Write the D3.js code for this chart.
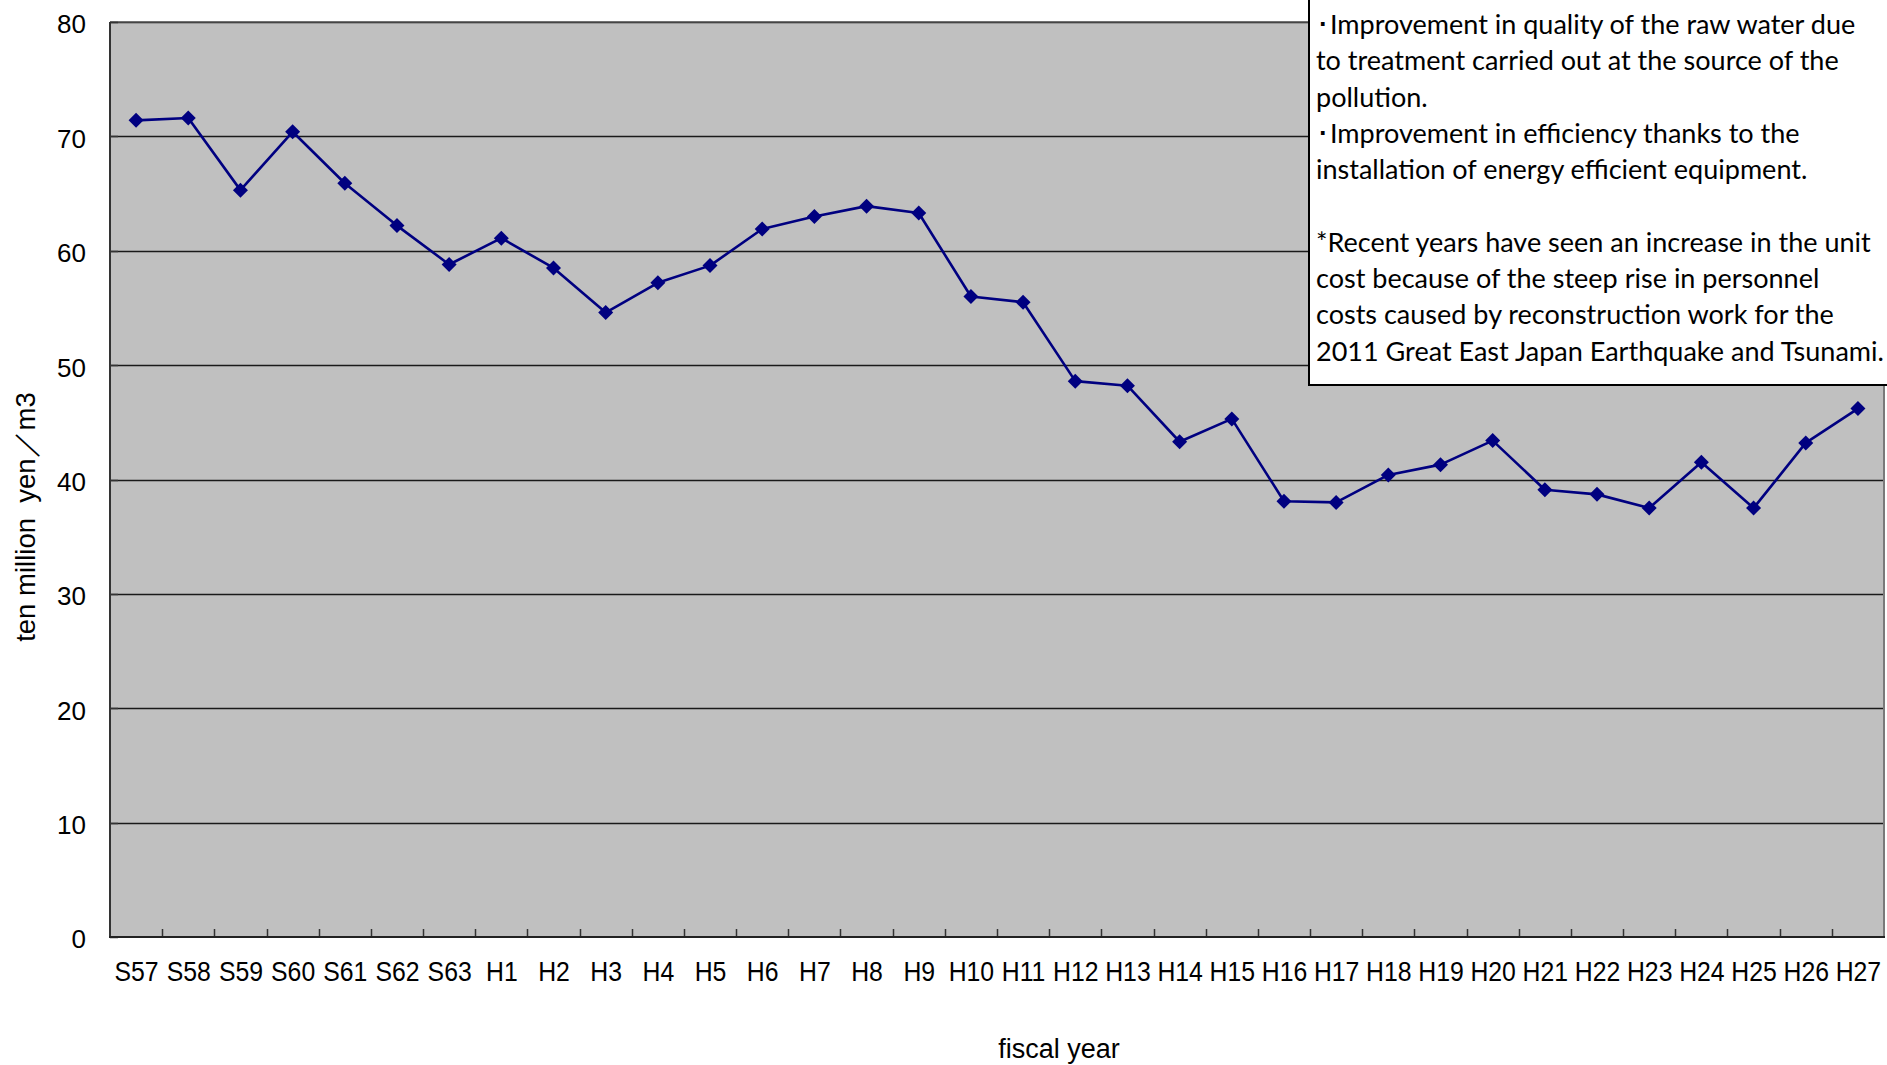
<!DOCTYPE html>
<html><head><meta charset="utf-8">
<script src="https://cdn.jsdelivr.net/npm/d3@7"></script>
<style>body{margin:0;background:#fff;} svg{display:block;}</style>
</head><body>
<script>
const categories = ["S57","S58","S59","S60","S61","S62","S63","H1","H2","H3","H4","H5","H6","H7","H8","H9","H10","H11","H12","H13","H14","H15","H16","H17","H18","H19","H20","H21","H22","H23","H24","H25","H26","H27"];
const values = [71.4,71.6,65.3,70.4,65.9,62.2,58.8,61.1,58.5,54.6,57.2,58.7,61.9,63.0,63.9,63.3,56.0,55.5,48.6,48.2,43.3,45.3,38.1,38.0,40.4,41.3,43.4,39.1,38.7,37.5,41.5,37.5,43.2,46.2];
const yTicks = [0,10,20,30,40,50,60,70,80];
const xTitle = "fiscal year";
const yTitle = "ten million\u00a0\u00a0yen／m3";
const noteLines = [
  "･Improvement in quality of the raw water due",
  "to treatment carried out at the source of the",
  "pollution.",
  "･Improvement in efficiency thanks to the",
  "installation of energy efficient equipment.",
  "",
  "*Recent years have seen an increase in the unit",
  "cost because of the steep rise in personnel",
  "costs caused by reconstruction work for the",
  "2011 Great East Japan Earthquake and Tsunami."
];

const W = 1887, H = 1065;
const m = {left:110, right:1884, top:22, bottom:937};
const svg = d3.select("body").append("svg").attr("width", W).attr("height", H);

const x = d3.scalePoint().domain(categories).range([m.left, m.right]).padding(0.5);
const xb = d3.scaleBand().domain(categories).range([m.left, m.right]);
const y = d3.scaleLinear().domain([0, 80]).range([m.bottom, m.top]);

const axisFont = "'Liberation Sans', Arial, sans-serif";

// plot background
svg.append("rect").attr("x", m.left).attr("y", m.top)
  .attr("width", m.right - m.left).attr("height", m.bottom - m.top)
  .attr("fill", "#c0c0c0");

// gridlines
svg.append("g").selectAll("line").data(yTicks.filter(d => d > 0)).join("line")
  .attr("x1", m.left).attr("x2", m.right)
  .attr("y1", d => Math.round(y(d)) + 0.5).attr("y2", d => Math.round(y(d)) + 0.5)
  .attr("stroke", "#1a1a1a").attr("stroke-width", 1.3);

// plot border top/right
svg.append("line").attr("x1", m.right).attr("x2", m.right).attr("y1", m.top).attr("y2", m.bottom)
  .attr("stroke", "#7a7a7a").attr("stroke-width", 2);
svg.append("line").attr("x1", m.left).attr("x2", m.right).attr("y1", m.top).attr("y2", m.top)
  .attr("stroke", "#555").attr("stroke-width", 1.5);

// x boundary ticks (pointing inside)
const bounds = categories.map(c => xb(c)).concat([m.right]);
svg.append("g").selectAll("line").data(bounds.slice(1, -1)).join("line")
  .attr("x1", d => Math.round(d) + 0.5).attr("x2", d => Math.round(d) + 0.5)
  .attr("y1", m.bottom).attr("y2", m.bottom - 8)
  .attr("stroke", "#333").attr("stroke-width", 1.5);

// y ticks inside
svg.append("g").selectAll("line").data(yTicks).join("line")
  .attr("x1", m.left).attr("x2", m.left + 8)
  .attr("y1", d => Math.round(y(d)) + 0.5).attr("y2", d => Math.round(y(d)) + 0.5)
  .attr("stroke", "#333").attr("stroke-width", 1.5);

// axes lines
svg.append("line").attr("x1", m.left).attr("x2", m.left).attr("y1", m.top).attr("y2", m.bottom + 1)
  .attr("stroke", "#333").attr("stroke-width", 2);
svg.append("line").attr("x1", m.left - 1).attr("x2", m.right + 1).attr("y1", m.bottom).attr("y2", m.bottom)
  .attr("stroke", "#222").attr("stroke-width", 2.2);

// y axis labels
const yAxis = d3.axisLeft(y).tickValues(yTicks).tickSize(0).tickPadding(24);
const gy = svg.append("g").attr("transform", `translate(${m.left},0)`).call(yAxis);
gy.select(".domain").remove();
gy.selectAll("text").attr("font-family", axisFont).attr("font-size", 26).attr("fill", "#000")
  .attr("dy", "0.42em");

// x axis labels
const xAxis = d3.axisBottom(x).tickSize(0).tickPadding(0);
const gx = svg.append("g").attr("transform", `translate(0,${m.bottom})`).call(xAxis);
gx.select(".domain").remove();
gx.selectAll("text").attr("font-family", axisFont).attr("font-size", 28.5).attr("fill", "#000")
  .attr("y", 44).attr("dy", 0).attr("transform", "scale(0.87,1)");

// axis titles
svg.append("text").attr("x", 1059).attr("y", 1058).attr("text-anchor", "middle")
  .attr("font-family", axisFont).attr("font-size", 27).text(xTitle);
svg.append("text").attr("transform", "translate(35,517) rotate(-90)").attr("text-anchor", "middle")
  .attr("font-family", axisFont).attr("font-size", 27.5).text(yTitle);

// line + markers
const line = d3.line().x((d, i) => x(categories[i])).y(d => y(d));
svg.append("path").datum(values).attr("d", line).attr("fill", "none")
  .attr("stroke", "#000080").attr("stroke-width", 2.6).attr("stroke-linejoin", "round");
const dm = 7.5;
svg.append("g").selectAll("path").data(values).join("path")
  .attr("transform", (d, i) => `translate(${x(categories[i])},${y(d)})`)
  .attr("d", `M0,${-dm}L${dm},0L0,${dm}L${-dm},0Z`)
  .attr("fill", "#000080");

// annotation box
svg.append("rect").attr("x", 1309).attr("y", -10).attr("width", 600).attr("height", 395)
  .attr("fill", "#fff").attr("stroke", "#000").attr("stroke-width", 2);
const noteFont = "Lato, 'Noto Sans', sans-serif";
const noteG = svg.append("g");
const probe = noteG.append("text").attr("font-family", noteFont).attr("font-size", 28)
  .text(noteLines[9]);
const w28 = probe.node().getComputedTextLength();
probe.remove();
const fs = 28 * 568 / w28;
noteG.selectAll("text").data(noteLines).join("text")
  .attr("x", 1316).attr("y", (d, i) => 34 + i * 36.3)
  .attr("font-family", noteFont).attr("font-size", fs).attr("fill", "#000")
  .text(d => d);
</script>
</body></html>
